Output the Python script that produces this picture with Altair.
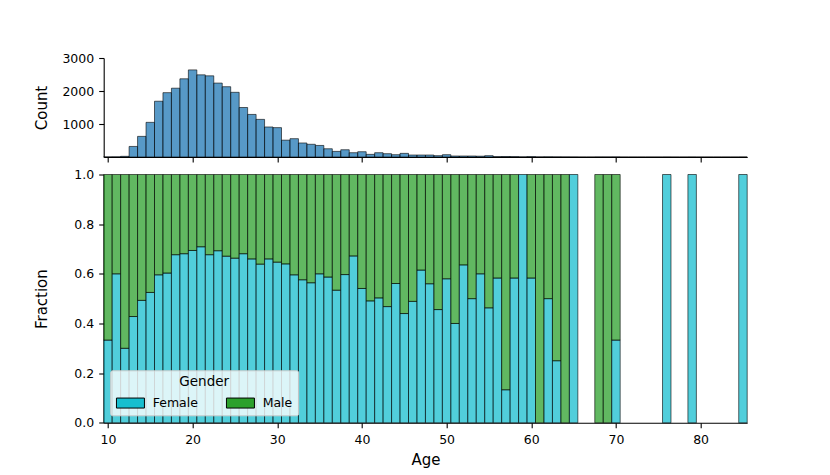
import altair as alt
import pandas as pd

# ---- data ----
ages = list(range(10, 86))

counts = [
    3, 5, 20, 320, 625, 1050, 1690, 1950, 2085, 2370,      # 10-19
    2640, 2490, 2460, 2240, 2130, 1960, 1500, 1290, 1140, 910,  # 20-29
    890, 510, 555, 425, 385, 350, 250, 170, 220, 130,       # 30-39
    160, 80, 130, 100, 70, 110, 60, 60, 60, 40,             # 40-49
    70, 30, 30, 30, 25, 40, 12, 15, 12, 5,                  # 50-59
    12, 4, 6, 4, 3, 2, 0, 0, 2, 2,                          # 60-69
    3, 0, 0, 0, 0, 0, 1, 0, 0, 1,                           # 70-79
    0, 0, 0, 0, 0, 1,                                       # 80-85
]

female_fraction = [
    0.333, 0.600, 0.300, 0.428, 0.493, 0.525, 0.596, 0.603, 0.677, 0.681,  # 10-19
    0.694, 0.709, 0.677, 0.693, 0.671, 0.663, 0.681, 0.660, 0.639, 0.660,  # 20-29
    0.647, 0.640, 0.596, 0.576, 0.564, 0.600, 0.587, 0.534, 0.597, 0.672,  # 30-39
    0.541, 0.491, 0.503, 0.468, 0.561, 0.440, 0.489, 0.615, 0.560, 0.456,  # 40-49
    0.580, 0.400, 0.636, 0.500, 0.600, 0.463, 0.583, 0.133, 0.583, 1.000,  # 50-59
    0.583, 0.000, 0.500, 0.250, 0.000, 1.000, None, None, 0.000, 0.000,    # 60-69
    0.333, None, None, None, None, None, 1.000, None, None, 1.000,         # 70-79
    None, None, None, None, None, 1.000,                                   # 80-85
]

genders = ["Female", "Male"]
gender_colors = ["#17becf", "#2ca02c"]
x_ticks = [10, 20, 30, 40, 50, 60, 70, 80]
count_ticks = [1000, 2000, 3000]
fraction_ticks = [0.0, 0.2, 0.4, 0.6, 0.8, 1.0]

# ---- tables ----
hist_df = pd.DataFrame({"age": ages, "count": counts})
hist_df["x0"] = hist_df["age"] - 0.5
hist_df["x1"] = hist_df["age"] + 0.5
hist_df["base"] = 0

rows = []
for a, f in zip(ages, female_fraction):
    if f is None:
        continue
    if f > 0:
        rows.append({"age": a, "Gender": "Female", "lo": 0.0, "hi": f})
    if f < 1:
        rows.append({"age": a, "Gender": "Male", "lo": f, "hi": 1.0})
frac_df = pd.DataFrame(rows)
frac_df["x0"] = frac_df["age"] - 0.5
frac_df["x1"] = frac_df["age"] + 0.5

FONT = "DejaVu Sans"
W = 643.5

axis_common = dict(
    grid=False,
    domainColor="black",
    domainWidth=1.1,
    tickColor="black",
    tickWidth=1.1,
    tickSize=5,
    labelColor="black",
    labelFontSize=12.5,
    labelFont=FONT,
    titleFont=FONT,
    titleFontSize=15,
    titleFontWeight="normal",
    titleColor="black",
    labelFlush=False,
    labelOverlap=False,
)

xscale = alt.Scale(domain=[9.5, 85.5], nice=False, zero=False)

top = alt.Chart(hist_df).mark_bar(
    color="#1f77b4", fillOpacity=0.75, stroke="black", strokeWidth=0.8, strokeOpacity=0.75
).encode(
    x=alt.X("x0:Q", scale=xscale,
            axis=alt.Axis(values=x_ticks, labels=False, title=None, **axis_common)),
    x2="x1:Q",
    y=alt.Y("count:Q", scale=alt.Scale(domain=[0, 3000], nice=False),
            axis=alt.Axis(values=count_ticks, format="d", title="Count",
                          titleX=-56.8, titleBaseline="alphabetic", labelPadding=5,
                          **axis_common)),
    y2="base:Q",
).properties(width=W, height=99)

bottom = alt.Chart(frac_df).mark_bar(
    fillOpacity=0.75, stroke="black", strokeWidth=0.8, strokeOpacity=0.75
).encode(
    x=alt.X("x0:Q", scale=xscale,
            axis=alt.Axis(values=x_ticks, format="d", title="Age", labelPadding=5.5,
                          titleY=41.9, titleBaseline="alphabetic", **axis_common)),
    x2="x1:Q",
    y=alt.Y("lo:Q", scale=alt.Scale(domain=[0, 1], nice=False),
            axis=alt.Axis(values=fraction_ticks, format=".1f", title="Fraction",
                          titleX=-56.8, titleBaseline="alphabetic", labelPadding=5,
                          **axis_common)),
    y2="hi:Q",
    color=alt.Color(
        "Gender:N",
        scale=alt.Scale(domain=genders, range=gender_colors),
        legend=alt.Legend(
            title="Gender",
            orient="none",
            legendX=6.5,
            legendY=312.3,
            direction="horizontal",
            titleAnchor="middle",
            titleFont=FONT,
            titleFontSize=13.5,
            titleFontWeight="normal",
            titleColor="black",
            titlePadding=8,
            labelFont=FONT,
            labelFontSize=12.5,
            labelColor="black",
            labelOffset=25,
            columnPadding=27,
            clipHeight=12,
            symbolType="M-1,-1H4.6V1H-1Z",
            symbolSize=100,
            symbolOpacity=1,
            symbolStrokeColor="black",
            symbolStrokeWidth=1,
            fillColor="rgba(255,255,255,0.8)",
            strokeColor="#cccccc",
            cornerRadius=2,
            padding=5,
        ),
    ),
).properties(width=W, height=248.3)

chart = alt.vconcat(top, bottom, spacing=5.5).properties(
    padding={"left": 26.7, "top": 44, "right": 0, "bottom": 0}
).configure(font=FONT).configure_view(strokeWidth=0, stroke="transparent")

chart.save("out.html", embed_options={"renderer": "svg", "actions": False})
